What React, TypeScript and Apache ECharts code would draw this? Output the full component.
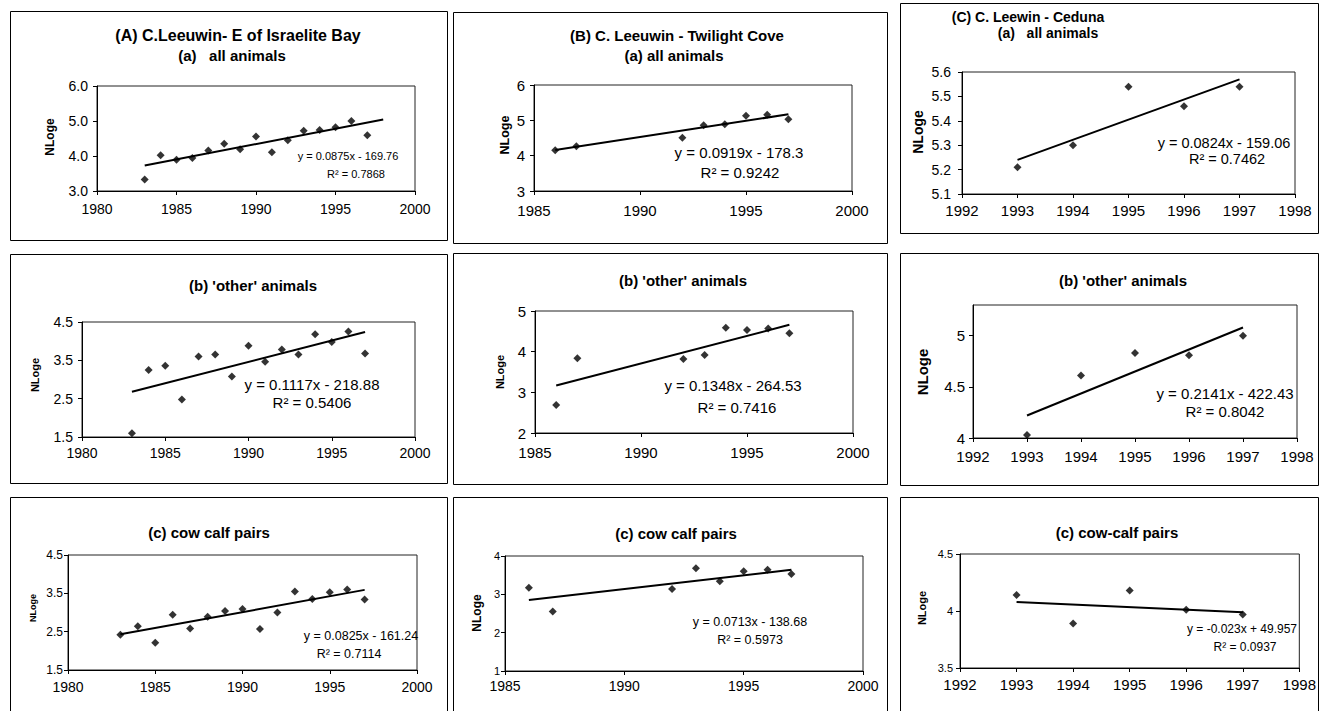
import React, { useEffect, useRef } from "react";
import * as echarts from "echarts";

// ---------- data ----------
const yearsA = [1983, 1984, 1985, 1986, 1987, 1988, 1989, 1990, 1991, 1992, 1993, 1994, 1995, 1996, 1997];
const allA = [3.33, 4.02, 3.89, 3.94, 4.16, 4.35, 4.19, 4.56, 4.11, 4.45, 4.72, 4.74, 4.82, 5.0, 4.59];
const otherA = [1.6, 3.25, 3.36, 2.48, 3.6, 3.65, 3.08, 3.88, 3.46, 3.78, 3.65, 4.18, 3.98, 4.25, 3.68];
const cowA = [2.42, 2.64, 2.21, 2.94, 2.58, 2.89, 3.04, 3.09, 2.57, 3.0, 3.55, 3.35, 3.53, 3.6, 3.34];

const yearsB = [1986, 1987, 1992, 1993, 1994, 1995, 1996, 1997];
const allB = [4.15, 4.27, 4.51, 4.86, 4.89, 5.13, 5.16, 5.03];
const otherB = [2.69, 3.84, 3.82, 3.92, 4.59, 4.53, 4.57, 4.45];
const cowB = [3.17, 2.55, 3.14, 3.68, 3.34, 3.6, 3.64, 3.53];

const yearsC = [1993, 1994, 1995, 1996, 1997];
const allC = [5.21, 5.3, 5.54, 5.46, 5.54];
const otherC = [4.03, 4.61, 4.83, 4.81, 5.0];
const cowC = [4.14, 3.89, 4.18, 4.01, 3.97];

// trendline end points (year, NLoge)
const trendAllA = [[1983, 3.73], [1998, 5.04]];
const trendOtherA = [[1983, 2.68], [1997, 4.24]];
const trendCowA = [[1983, 2.43], [1997, 3.59]];
const trendAllB = [[1986, 4.16], [1997, 5.17]];
const trendOtherB = [[1986, 3.17], [1997, 4.66]];
const trendCowB = [[1986, 2.85], [1997, 3.64]];
const trendAllC = [[1993, 5.24], [1997, 5.57]];
const trendOtherC = [[1993, 4.22], [1997, 5.08]];
const trendCowC = [[1993, 4.08], [1997, 3.99]];

// tick labels
const xTicksA = [1980, 1985, 1990, 1995, 2000];
const xTicksB = [1985, 1990, 1995, 2000];
const xTicksC = [1992, 1993, 1994, 1995, 1996, 1997, 1998];
const yTicksAllA = [3, 4, 5, 6];
const yTicksOtherA = [1.5, 2.5, 3.5, 4.5];
const yTicksCowA = [1.5, 2.5, 3.5, 4.5];
const yTicksAllB = [3, 4, 5, 6];
const yTicksOtherB = [2, 3, 4, 5];
const yTicksCowB = [1, 2, 3, 4];
const yTicksAllC = [5.1, 5.2, 5.3, 5.4, 5.5, 5.6];
const yTicksOtherC = [4, 4.5, 5];
const yTicksCowC = [3.5, 4, 4.5];

// texts
const eqAllA = ["y = 0.0875x - 169.76", "R² = 0.7868"];
const eqOtherA = ["y = 0.1117x - 218.88", "R² = 0.5406"];
const eqCowA = ["y = 0.0825x - 161.24", "R² = 0.7114"];
const eqAllB = ["y = 0.0919x - 178.3", "R² = 0.9242"];
const eqOtherB = ["y = 0.1348x - 264.53", "R² = 0.7416"];
const eqCowB = ["y = 0.0713x - 138.68", "R² = 0.5973"];
const eqAllC = ["y = 0.0824x - 159.06", "R² = 0.7462"];
const eqOtherC = ["y = 0.2141x - 422.43", "R² = 0.8042"];
const eqCowC = ["y = -0.023x + 49.957", "R² = 0.0937"];

const FONT = "'Liberation Sans', Arial, sans-serif";

type Panel = {
  years: number[];
  values: number[];
  trend: number[][];
  xTicks: number[];
  yTicks: number[];
  yMax?: number;
  yFmt?: (v: number) => string;
  eq: string[];
  titles: { text: string; x: number; y: number; size: number }[];
  box: number[];
  grid: { left: number; top: number; width: number; height: number };
  nloge: { x: number; y: number; size: number };
  eqPos: { x1: number; y1: number; x2: number; y2: number; size: number };
  xLab: { size: number; margin: number };
  yLab: { size: number; margin: number };
};

const fix1 = (v: number) => v.toFixed(1);

const panels: Panel[] = [
  {
    years: yearsA, values: allA, trend: trendAllA, xTicks: xTicksA, yTicks: yTicksAllA, yFmt: fix1, eq: eqAllA,
    titles: [
      { text: "(A) C.Leeuwin- E of Israelite Bay", x: 238, y: 35, size: 16 },
      { text: "(a)   all animals", x: 232, y: 55, size: 15 },
    ],
    box: [10, 11, 437, 229],
    grid: { left: 97, top: 86, width: 318, height: 105 },
    nloge: { x: 50, y: 137, size: 12 },
    eqPos: { x1: 348, y1: 156, x2: 356, y2: 174, size: 11 },
    xLab: { size: 14, margin: 11 },
    yLab: { size: 14, margin: 9 },
  },
  {
    years: yearsB, values: allB, trend: trendAllB, xTicks: xTicksB, yTicks: yTicksAllB, eq: eqAllB,
    titles: [
      { text: "(B) C. Leeuwin - Twilight Cove", x: 677, y: 35, size: 15 },
      { text: "(a) all animals", x: 674, y: 55, size: 15 },
    ],
    box: [453, 12, 434, 231],
    grid: { left: 534, top: 85, width: 318, height: 106 },
    nloge: { x: 505, y: 135, size: 12.5 },
    eqPos: { x1: 739, y1: 152, x2: 740, y2: 172, size: 15 },
    xLab: { size: 15, margin: 12 },
    yLab: { size: 15, margin: 9 },
  },
  {
    years: yearsC, values: allC, trend: trendAllC, xTicks: xTicksC, yTicks: yTicksAllC, yFmt: fix1, eq: eqAllC,
    titles: [
      { text: "(C) C. Leewin - Ceduna", x: 1028, y: 17, size: 14 },
      { text: "(a)   all animals", x: 1048, y: 33, size: 14 },
    ],
    box: [900, 3, 418, 230],
    grid: { left: 962, top: 72, width: 333, height: 122 },
    nloge: { x: 918, y: 132, size: 14 },
    eqPos: { x1: 1224, y1: 143, x2: 1227, y2: 159, size: 14.5 },
    xLab: { size: 15, margin: 9 },
    yLab: { size: 14, margin: 11 },
  },
  {
    years: yearsA, values: otherA, trend: trendOtherA, xTicks: xTicksA, yTicks: yTicksOtherA, yFmt: fix1, eq: eqOtherA,
    titles: [{ text: "(b) 'other' animals", x: 253, y: 285, size: 15 }],
    box: [10, 254, 437, 229],
    grid: { left: 82, top: 322, width: 333, height: 115 },
    nloge: { x: 35, y: 375, size: 11 },
    eqPos: { x1: 312, y1: 384, x2: 312, y2: 402, size: 15 },
    xLab: { size: 14, margin: 9 },
    yLab: { size: 14, margin: 9 },
  },
  {
    years: yearsB, values: otherB, trend: trendOtherB, xTicks: xTicksB, yTicks: yTicksOtherB, eq: eqOtherB,
    titles: [{ text: "(b) 'other' animals", x: 683, y: 280, size: 15 }],
    box: [453, 253, 434, 231],
    grid: { left: 535, top: 311, width: 318, height: 122 },
    nloge: { x: 500, y: 372, size: 11 },
    eqPos: { x1: 733, y1: 385, x2: 737, y2: 407, size: 15 },
    xLab: { size: 15, margin: 12 },
    yLab: { size: 15, margin: 9 },
  },
  {
    years: yearsC, values: otherC, trend: trendOtherC, xTicks: xTicksC, yTicks: yTicksOtherC, yMax: 5.3, eq: eqOtherC,
    titles: [{ text: "(b) 'other' animals", x: 1123, y: 280, size: 15 }],
    box: [900, 253, 418, 232],
    grid: { left: 973, top: 305, width: 324, height: 133 },
    nloge: { x: 922, y: 372, size: 15 },
    eqPos: { x1: 1225, y1: 393, x2: 1225, y2: 411, size: 15 },
    xLab: { size: 15, margin: 11 },
    yLab: { size: 15, margin: 8 },
  },
  {
    years: yearsA, values: cowA, trend: trendCowA, xTicks: xTicksA, yTicks: yTicksCowA, yFmt: fix1, eq: eqCowA,
    titles: [{ text: "(c) cow calf pairs", x: 209, y: 532, size: 15 }],
    box: [10, 497, 437, 240],
    grid: { left: 68, top: 555, width: 349, height: 115 },
    nloge: { x: 33, y: 608, size: 9 },
    eqPos: { x1: 361, y1: 636, x2: 349, y2: 654, size: 12.5 },
    xLab: { size: 14, margin: 10 },
    yLab: { size: 12, margin: 5 },
  },
  {
    years: yearsB, values: cowB, trend: trendCowB, xTicks: xTicksB, yTicks: yTicksCowB, eq: eqCowB,
    titles: [{ text: "(c) cow calf pairs", x: 676, y: 533, size: 15 }],
    box: [453, 497, 434, 240],
    grid: { left: 505, top: 556, width: 358, height: 115 },
    nloge: { x: 477, y: 613, size: 12 },
    eqPos: { x1: 750, y1: 622, x2: 750, y2: 640, size: 12.5 },
    xLab: { size: 14, margin: 8 },
    yLab: { size: 11, margin: 5 },
  },
  {
    years: yearsC, values: cowC, trend: trendCowC, xTicks: xTicksC, yTicks: yTicksCowC, eq: eqCowC,
    titles: [{ text: "(c) cow-calf pairs", x: 1117, y: 532, size: 15 }],
    box: [900, 497, 418, 240],
    grid: { left: 960, top: 554, width: 341, height: 114 },
    nloge: { x: 922, y: 608, size: 11 },
    eqPos: { x1: 1242, y1: 629, x2: 1245, y2: 647, size: 12 },
    xLab: { size: 15, margin: 9 },
    yLab: { size: 11, margin: 7 },
  },
];

function buildOption() {
  const grid: any[] = [];
  const xAxis: any[] = [];
  const yAxis: any[] = [];
  const series: any[] = [];
  const graphic: any[] = [];

  panels.forEach((p, i) => {
    grid.push({
      ...p.grid,
      show: true,
      borderColor: "#222",
      borderWidth: 1,
      backgroundColor: "transparent",
      containLabel: false,
    });
    xAxis.push({
      type: "value",
      gridIndex: i,
      min: p.xTicks[0],
      max: p.xTicks[p.xTicks.length - 1],
      axisLine: { show: true, onZero: false, lineStyle: { color: "#000", width: 1 } },
      axisTick: { show: true, length: 4, customValues: p.xTicks, lineStyle: { color: "#000" } },
      axisLabel: {
        customValues: p.xTicks,
        fontSize: p.xLab.size,
        margin: p.xLab.margin,
        color: "#000",
        fontFamily: FONT,
        formatter: (v: number) => String(v),
      },
      splitLine: { show: false },
    });
    yAxis.push({
      type: "value",
      gridIndex: i,
      min: p.yTicks[0],
      max: p.yMax ?? p.yTicks[p.yTicks.length - 1],
      axisLine: { show: true, onZero: false, lineStyle: { color: "#000", width: 1 } },
      axisTick: { show: true, length: 4, customValues: p.yTicks, lineStyle: { color: "#000" } },
      axisLabel: {
        customValues: p.yTicks,
        fontSize: p.yLab.size,
        margin: p.yLab.margin,
        color: "#000",
        fontFamily: FONT,
        formatter: (v: number) => (p.yFmt ? p.yFmt(v) : String(+v.toFixed(2))),
      },
      splitLine: { show: false },
    });
    series.push({
      type: "scatter",
      xAxisIndex: i,
      yAxisIndex: i,
      data: p.years.map((yr, k) => [yr, p.values[k]]),
      symbol: "diamond",
      symbolSize: 8,
      itemStyle: { color: "#000" },
      silent: true,
    });
    series.push({
      type: "line",
      xAxisIndex: i,
      yAxisIndex: i,
      data: p.trend,
      symbol: "none",
      lineStyle: { color: "#000", width: 2 },
      silent: true,
    });

    graphic.push({
      type: "rect",
      shape: { x: p.box[0] + 0.5, y: p.box[1] + 0.5, width: p.box[2], height: p.box[3] },
      style: { fill: "none", stroke: "#000", lineWidth: 1 },
      silent: true,
    });
    p.titles.forEach((t) => {
      graphic.push({
        type: "text",
        x: t.x,
        y: t.y,
        style: {
          text: t.text,
          fontSize: t.size,
          fontWeight: "bold",
          fontFamily: FONT,
          fill: "#000",
          align: "center",
          verticalAlign: "middle",
          textAlign: "center",
          textVerticalAlign: "middle",
        },
      });
    });
    graphic.push({
      type: "text",
      x: p.nloge.x,
      y: p.nloge.y,
      rotation: Math.PI / 2,
      style: {
        text: "NLoge",
        fontSize: p.nloge.size,
        fontWeight: "bold",
        fontFamily: FONT,
        fill: "#000",
        align: "center",
        verticalAlign: "middle",
        textAlign: "center",
        textVerticalAlign: "middle",
      },
    });
    [
      { t: p.eq[0], x: p.eqPos.x1, y: p.eqPos.y1 },
      { t: p.eq[1], x: p.eqPos.x2, y: p.eqPos.y2 },
    ].forEach((e) => {
      graphic.push({
        type: "text",
        x: e.x,
        y: e.y,
        style: {
          text: e.t,
          fontSize: p.eqPos.size,
          fontFamily: FONT,
          fill: "#000",
          align: "center",
          verticalAlign: "middle",
          textAlign: "center",
          textVerticalAlign: "middle",
        },
      });
    });
  });

  return {
    animation: false,
    backgroundColor: "#fff",
    grid,
    xAxis,
    yAxis,
    series,
    graphic,
  };
}

export default function App() {
  const ref = useRef<HTMLDivElement>(null);
  useEffect(() => {
    if (!ref.current) return;
    const chart = echarts.init(ref.current, undefined, { renderer: "svg" });
    chart.setOption(buildOption() as any);
    return () => chart.dispose();
  }, []);
  return (
    <div
      ref={ref}
      style={{ position: "absolute", left: 0, top: 0, width: 1319, height: 711, background: "#fff" }}
    />
  );
}
